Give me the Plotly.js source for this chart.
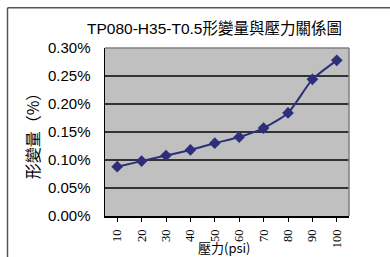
<!DOCTYPE html>
<html>
<head>
<meta charset="utf-8">
<script src="https://cdn.plot.ly/plotly-3.0.1.min.js"></script>
<style>
html,body{margin:0;padding:0;background:#fff;}
#chart{width:390px;height:257px;}
</style>
</head>
<body>
<div id="chart"></div>
<script>
// Data
const pressure = ['10','20','30','40','50','60','70','80','90','100'];
const deformation = [0.00088, 0.00098, 0.00108, 0.00118, 0.00130, 0.00141, 0.00157, 0.00184, 0.00244, 0.00278];
const chartTitle = 'TP080-H35-T0.5形變量與壓力關係圖';
const xTitle = '壓力(psi)';
const yTitle = '形變量（%）';

const L = 105, R = 349, T = 47.7, B = 215.7, W = 390, H = 257;
const px = x => (x - L) / (R - L);
const py = y => (B - y) / (B - T);

const trace = {
  x: pressure,
  y: deformation,
  type: 'scatter',
  mode: 'lines+markers',
  line: {color: '#2e2f7a', width: 2, shape: 'spline', smoothing: 0.6},
  marker: {symbol: 'diamond', size: 9, color: '#2e2f7a'},
  hoverinfo: 'x+y'
};

const layout = {
  width: W, height: H,
  margin: {l: L, r: W - R, t: T, b: H - B, pad: 0},
  paper_bgcolor: '#ffffff',
  plot_bgcolor: '#c0c0c0',
  showlegend: false,
  font: {family: 'Arial, Liberation Sans, "Noto Sans CJK TC", sans-serif', color: '#000'},
  title: {
    text: chartTitle,
    font: {size: 15.5, family: 'Arial, Liberation Sans, "Noto Sans CJK TC", sans-serif', color: '#000'},
    x: px(214.5), xref: 'paper', xanchor: 'center',
    y: 1 - 29 / H, yref: 'container', yanchor: 'middle'
  },
  xaxis: {
    type: 'category',
    range: [-0.5, 9.5],
    showgrid: false,
    showline: true, linecolor: '#000', linewidth: 1.5,
    ticks: 'outside', ticklen: 4, tickcolor: '#000', tickwidth: 1,
    tickangle: -90,
    ticklabelstandoff: 3,
    tickfont: {family: 'Liberation Serif, Times New Roman, serif', size: 12.5, color: '#000'},
    fixedrange: true, zeroline: false
  },
  yaxis: {
    range: [0, 0.003],
    dtick: 0.0005,
    tickformat: '.2%',
    showgrid: true, gridcolor: '#333333', gridwidth: 1.5,
    showline: true, linecolor: '#000', linewidth: 1.5,
    ticks: '',
    ticklabelstandoff: 10,
    tickfont: {size: 15, family: 'Arial, Liberation Sans, sans-serif', color: '#000'},
    title: {text: yTitle, font: {size: 16, family: '"Noto Sans CJK TC", sans-serif'}, standoff: 4},
    zeroline: false, fixedrange: true
  },
  annotations: [
    {text: xTitle, xref: 'paper', yref: 'paper', x: px(224), y: py(247.5), xanchor: 'center', yanchor: 'middle',
     showarrow: false, borderpad: 0, font: {size: 13, family: '"Noto Sans CJK TC", Arial, sans-serif', color: '#000'}}
  ],
  shapes: [
    // plot area border top/right
    {type: 'line', xref: 'paper', yref: 'paper', x0: 0, x1: 1, y0: 1, y1: 1, line: {color: '#808080', width: 1.5}},
    {type: 'line', xref: 'paper', yref: 'paper', x0: 1, x1: 1, y0: 0, y1: 1, line: {color: '#808080', width: 1.5}},
    // outer chart frame
    {type: 'line', xref: 'paper', yref: 'paper', x0: px(7.5), x1: px(7.5), y0: py(7.5), y1: py(262), line: {color: '#555555', width: 1.5}},
    {type: 'line', xref: 'paper', yref: 'paper', x0: px(7.5), x1: px(395), y0: py(7.5), y1: py(7.5), line: {color: '#555555', width: 1.5}}
  ]
};

Plotly.newPlot('chart', [trace], layout, {displayModeBar: false, staticPlot: true});
</script>
</body>
</html>
